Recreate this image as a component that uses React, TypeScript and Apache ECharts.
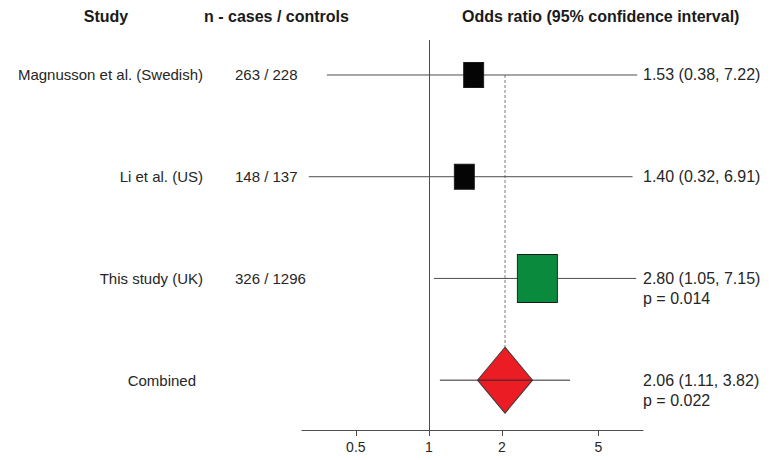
import React, { useEffect, useRef } from "react";
import * as echarts from "echarts";

// ---- data ----
const studies = ["Magnusson et al. (Swedish)", "Li et al. (US)", "This study (UK)", "Combined"];
const casesControls = ["263 / 228", "148 / 137", "326 / 1296", ""];
const oddsRatio = [1.53, 1.4, 2.8, 2.06];
const ciLower = [0.38, 0.32, 1.05, 1.11];
const ciUpper = [7.22, 6.91, 7.15, 3.82];
const pValues = ["", "", "p = 0.014", "p = 0.022"];
const xTicks = [0.5, 1, 2, 5];
const axisRange = [0.3, 7.63];
const headers = ["Study", "n - cases / controls", "Odds ratio (95% confidence interval)"];

// ---- styles ----
const FONT = "'Liberation Sans', Arial, Helvetica, sans-serif";
const TEXT = "#262626";
const LINE = "#4d4d4d";
const squareSizes = [[20, 25], [20, 25], [40, 48]];
const squareColors = ["#050505", "#050505", "#0a8a3c"];
const diamondSize = [55, 66];
const diamondColor = "#ec1c24";
const labelRightEdge = [203, 203, 203, 196];
const nColumnX = 235;

const L = (v: number) => Math.log10(v);
const nStudies = 3;
const pooled = nStudies; // index of combined row

export default function App() {
  const ref = useRef<HTMLDivElement>(null);
  useEffect(() => {
    if (!ref.current) return;
    const chart = echarts.init(ref.current, null, { renderer: "svg" });
    const tickVals = xTicks.map(L);

    const ciRenderer = (params: any, api: any) => {
      const i = api.value(2);
      const a = api.coord([api.value(0), i]);
      const b = api.coord([api.value(1), i]);
      return {
        type: "line",
        shape: { x1: a[0], y1: a[1], x2: b[0], y2: b[1] },
        style: { stroke: i === pooled ? "#2a2a2a" : LINE, lineWidth: 1 },
      };
    };

    const option: any = {
      animation: false,
      backgroundColor: "#ffffff",
      grid: { left: 302, width: 341, top: 40, bottom: 30, containLabel: false },
      xAxis: {
        type: "value",
        min: L(axisRange[0]),
        max: L(axisRange[1]),
        axisLine: { show: true, onZero: false, lineStyle: { color: LINE, width: 1 } },
        axisTick: { show: true, customValues: tickVals, length: 6, lineStyle: { color: LINE } },
        axisLabel: {
          customValues: tickVals,
          formatter: (v: number) => String(+Math.pow(10, v).toFixed(2)),
          color: TEXT,
          fontSize: 14,
          fontFamily: FONT,
          margin: 10,
        },
        splitLine: { show: false },
      },
      yAxis: { type: "value", min: -0.344, max: 3.49, inverse: true, show: false },
      graphic: [
        { type: "text", x: 106, y: 16, style: { text: headers[0], font: `bold 16px ${FONT}`, fill: "#1a1a1a", align: "center", verticalAlign: "middle" } },
        { type: "text", x: 204, y: 16, style: { text: headers[1], font: `bold 16px ${FONT}`, fill: "#1a1a1a", align: "left", verticalAlign: "middle" } },
        { type: "text", x: 462, y: 16, style: { text: headers[2], font: `bold 16px ${FONT}`, fill: "#1a1a1a", align: "left", verticalAlign: "middle" } },
      ],
      series: [
        {
          type: "line",
          z: 1,
          silent: true,
          symbol: "none",
          lineStyle: { color: "#7a7a7a", width: 1, type: [3, 2] },
          data: [
            [L(oddsRatio[pooled]), 0],
            [L(oddsRatio[pooled]), pooled],
          ],
          markLine: {
            silent: true,
            symbol: ["none", "none"],
            label: { show: false },
            lineStyle: { color: LINE, type: "solid", width: 1 },
            data: [{ xAxis: 0 }],
          },
        },
        {
          type: "custom",
          z: 2,
          clip: false,
          renderItem: ciRenderer,
          data: studies.slice(0, nStudies).map((_, i) => [L(ciLower[i]), L(ciUpper[i]), i]),
        },
        {
          type: "scatter",
          z: 3,
          symbol: "rect",
          data: oddsRatio.slice(0, nStudies).map((or, i) => ({
            value: [L(or), i],
            symbolSize: squareSizes[i],
            itemStyle: { color: squareColors[i], borderColor: "#1a1a1a", borderWidth: 1, opacity: 1 },
          })),
        },
        {
          type: "scatter",
          z: 4,
          symbol: "diamond",
          symbolSize: diamondSize,
          itemStyle: { color: diamondColor, borderColor: "#3a3a3a", borderWidth: 1, opacity: 1 },
          data: [[L(oddsRatio[pooled]), pooled]],
        },
        {
          type: "custom",
          z: 5,
          clip: false,
          renderItem: ciRenderer,
          data: [[L(ciLower[pooled]), L(ciUpper[pooled]), pooled]],
        },
        {
          type: "custom",
          z: 6,
          clip: false,
          silent: true,
          renderItem: (params: any, api: any) => {
            const i = api.value(0);
            const y = api.coord([0, i])[1];
            const xr = api.coord([L(axisRange[1]), i])[0];
            const estimate = `${oddsRatio[i].toFixed(2)} (${ciLower[i].toFixed(2)}, ${ciUpper[i].toFixed(2)})`;
            const children: any[] = [
              { type: "text", x: labelRightEdge[i], y, style: { text: studies[i], font: `15px ${FONT}`, fill: TEXT, align: "right", verticalAlign: "middle" } },
              { type: "text", x: nColumnX, y, style: { text: casesControls[i], font: `15px ${FONT}`, fill: TEXT, align: "left", verticalAlign: "middle" } },
              { type: "text", x: xr, y, style: { text: estimate, font: `16px ${FONT}`, fill: TEXT, align: "left", verticalAlign: "middle" } },
            ];
            if (pValues[i]) {
              children.push({ type: "text", x: xr, y: y + 20, style: { text: pValues[i], font: `16px ${FONT}`, fill: TEXT, align: "left", verticalAlign: "middle" } });
            }
            return { type: "group", children };
          },
          data: studies.map((_, i) => [i]),
        },
      ],
    };
    chart.setOption(option);
    return () => chart.dispose();
  }, []);
  return (
    <div
      ref={ref}
      style={{ position: "fixed", left: 0, top: 0, width: 778, height: 460, background: "#fff" }}
    />
  );
}
